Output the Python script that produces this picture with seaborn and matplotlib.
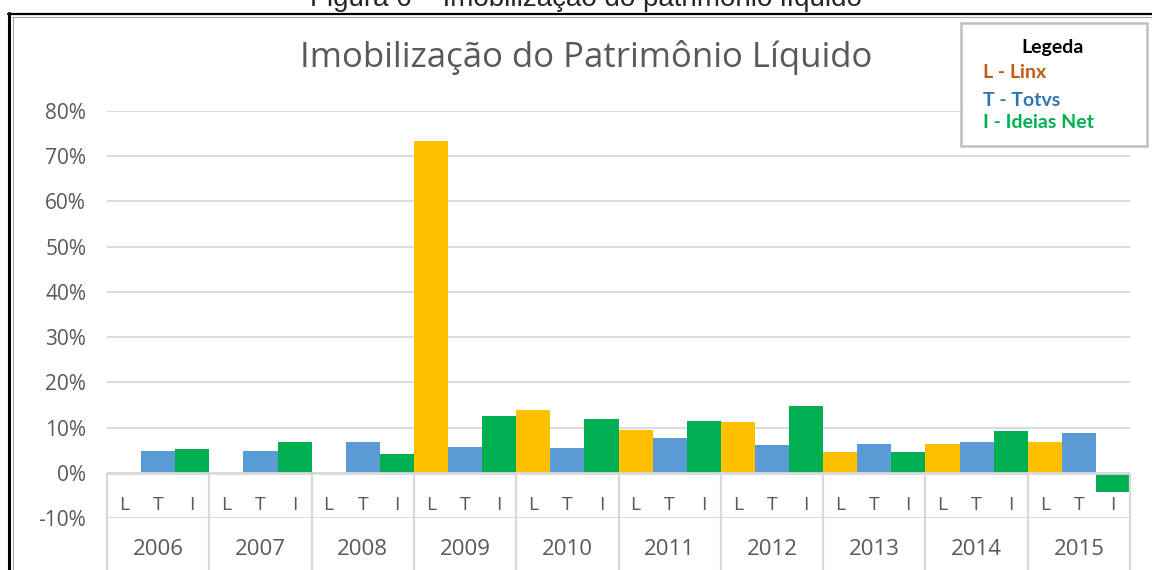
"""
Imobilizacao do Patrimonio Liquido - Linx, Totvs e Ideias Net (2006-2015).
Recria o grafico de barras agrupadas no estilo Excel.
"""
import numpy as np
import pandas as pd
import matplotlib
matplotlib.use('Agg')
import matplotlib.pyplot as plt
from matplotlib.lines import Line2D
from matplotlib.patches import Rectangle
import seaborn as sns

# dados (em %)
anos = ['2006', '2007', '2008', '2009', '2010', '2011', '2012', '2013', '2014', '2015']
empresas = ['L', 'T', 'I']
linx = [np.nan, np.nan, np.nan, 73.4, 13.9, 9.4, 11.2, 4.7, 6.3, 6.7]
totvs = [4.8, 4.8, 6.8, 5.6, 5.4, 7.6, 6.1, 6.3, 6.7, 8.8]
ideias = [5.2, 6.8, 4.1, 12.6, 11.9, 11.5, 14.8, 4.5, 9.2, -4.3]
y_ticks = [-10, 0, 10, 20, 30, 40, 50, 60, 70, 80]

titulo = 'Imobilização do Patrimônio Líquido'
legenda = [('Legeda', 'black'), ('L - Linx', '#C55A11'),
           ('T - Totvs', '#2E75B6'), ('I - Ideias Net', '#00B050')]
cores = ['#FFC000', '#5B9BD5', '#00B050']
GRID = '#D9D9D9'
TXT = '#595959'

df = pd.DataFrame({'ano': anos, 'L': linx, 'T': totvs, 'I': ideias})
df = df.melt(id_vars='ano', var_name='empresa', value_name='valor').dropna()

sns.set_style('white')
plt.rcParams['font.family'] = ['Open Sans', 'DejaVu Sans']

W, H = 1152, 570
fig = plt.figure(figsize=(W / 100, H / 100), dpi=100)
ax = fig.add_axes([107 / W, 52 / H, 1023 / W, 407 / H])

sns.barplot(data=df, x='ano', y='valor', hue='empresa', order=anos,
            hue_order=empresas, palette=cores, saturation=1, width=1.0, gap=0,
            errorbar=None, linewidth=0, legend=False, ax=ax, zorder=2)

ax.set_xlim(-0.5, len(anos) - 0.5)
ax.set_ylim(-10, 80)
ax.set_yticks(y_ticks)
ax.set_yticklabels([f'{v}%' for v in y_ticks], color=TXT, fontsize=15)
ax.tick_params(axis='y', length=0, pad=15)
ax.set_xticks([])
ax.set_xlabel('')
ax.set_ylabel('')
ax.set_axisbelow(True)
ax.yaxis.grid(True, color=GRID, lw=1.3)
for s in ax.spines.values():
    s.set_visible(False)

# eixo de categorias em dois niveis
ax.axhline(0, color=GRID, lw=2, zorder=3)
ax.vlines(np.arange(-0.5, len(anos)), -30, 0, color=GRID, lw=1.6,
          clip_on=False, zorder=3)
for i, ano in enumerate(anos):
    for k, emp in enumerate(empresas):
        ax.text(i + (k - 1) / 3, -7.1, emp, ha='center', va='center',
                fontsize=14, color=TXT, zorder=4)
    ax.text(i, -16.9, ano, ha='center', va='center', fontsize=16,
            color=TXT, clip_on=False)

# titulos
fig.text(586 / W, 1 - 67 / H, titulo, ha='center', va='baseline',
         fontsize=25, color=TXT)
fig.text(586 / W, 1 - 6 / H, 'Figura 6 – Imobilização do patrimônio líquido',
         ha='center', va='baseline', fontsize=20, family='Liberation Sans')

# caixa de legenda desenhada a mao
fig.patches.append(Rectangle((961 / W, 1 - 146 / H), 186 / W, 123 / H,
                             transform=fig.transFigure, facecolor='white',
                             edgecolor='#BFBFBF', lw=1.8, zorder=5))
ys = [53, 78, 106, 128]
for (txt, cor), yy in zip(legenda, ys):
    if txt == 'Legeda':
        fig.text(1053 / W, 1 - yy / H, txt, ha='center', va='baseline',
                 fontsize=14, fontweight='bold', color=cor, zorder=6,
                 family='Lato')
    else:
        fig.text(983 / W, 1 - yy / H, txt, ha='left', va='baseline',
                 fontsize=14, fontweight='bold', color=cor, zorder=6,
                 family='Lato')

# moldura da figura
fig.add_artist(Line2D([8 / W, 1], [1 - 13.5 / H] * 2, color='black', lw=1.6))
fig.add_artist(Line2D([9 / W] * 2, [0, 1 - 13 / H], color='black', lw=2.2))
fig.add_artist(Line2D([12 / W, 1], [1 - 16.5 / H] * 2, color='#A6A6A6', lw=0.8))
fig.add_artist(Line2D([12.5 / W] * 2, [0, 1 - 16.5 / H], color='#A6A6A6', lw=0.8))

fig.savefig('out.png', dpi=100)
plt.close(fig)
